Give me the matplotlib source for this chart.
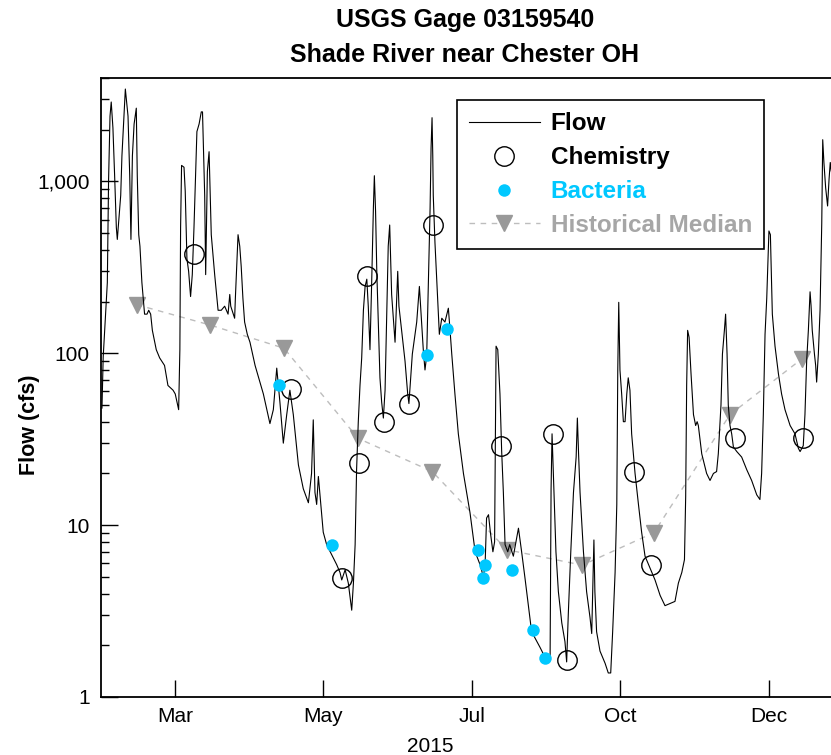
import matplotlib
matplotlib.use('Agg')
import matplotlib.pyplot as plt
from matplotlib.ticker import LogLocator, NullFormatter

plt.rcParams['font.family'] = ['Liberation Sans', 'DejaVu Sans']

# daily flow at the gage, day counted from 1 Feb 2015
flow_day = [
    -2.0, -1.5, 0.2, 0.7, 1.3, 1.8, 2.5, 3.2, 3.9, 4.3,
    4.8, 5.7, 6.2, 7.6, 8.7, 9.4, 9.9, 10.5, 11.2, 12.1,
    12.5, 13.1, 13.6, 14.4, 15.5, 16.5, 17.2, 18.0, 18.7, 20.3,
    21.7, 23.7, 25.1, 27.2, 28.1, 29.5, 30.0, 30.3, 30.7, 31.7,
    32.2, 32.9, 33.6, 34.4, 35.1, 35.8, 36.4, 37.0, 37.9, 38.8,
    39.3, 40.2, 40.6, 41.3, 42.0, 42.9, 44.3, 45.7, 47.0, 48.4,
    49.8, 50.5, 50.9, 52.5, 52.8, 53.6, 53.9, 54.6, 55.2, 55.9,
    56.6, 57.7, 58.8, 60.9, 64.3, 67.0, 68.4, 69.5, 69.8, 71.1,
    72.5, 73.9, 75.2, 76.6, 78.7, 80.7, 82.8, 84.1, 84.8, 85.5,
    86.2, 86.9, 87.6, 88.9, 90.3, 94.4, 95.8, 96.5, 97.9, 99.2,
    100.6, 101.3, 102.0, 102.6, 103.3, 104.0, 104.7, 105.4, 106.1, 106.8,
    107.4, 108.1, 108.8, 109.5, 109.9, 110.4, 110.9, 111.5, 112.2, 112.9,
    113.6, 114.3, 115.0, 115.6, 116.2, 117.0, 118.4, 119.5, 120.0, 121.1,
    122.5, 123.6, 124.1, 125.5, 127.3, 128.4, 129.1, 130.0, 130.7, 131.4,
    131.8, 132.4, 132.8, 133.2, 133.6, 133.9, 134.1, 134.8, 135.8, 136.6,
    137.6, 138.9, 140.3, 141.0, 141.7, 143.0, 144.4, 146.5, 149.2, 151.3,
    153.3, 154.7, 155.4, 156.0, 156.8, 157.6, 158.6, 159.3, 159.9, 160.6,
    161.5, 162.2, 162.9, 163.6, 164.7, 165.5, 167.0, 169.1, 170.4, 171.8,
    174.5, 178.0, 180.3, 182.1, 182.5, 182.9, 183.6, 184.5, 185.5, 186.9,
    188.2, 188.9, 189.6, 190.6, 191.7, 192.8, 193.3, 193.8, 194.4, 195.8,
    197.1, 198.5, 199.2, 199.6, 200.1, 200.5, 201.2, 202.6, 204.7, 206.0,
    207.0, 207.8, 208.8, 209.5, 209.9, 210.3, 210.8, 211.5, 212.2, 212.9,
    213.6, 214.2, 214.9, 215.6, 217.0, 218.4, 219.7, 221.1, 223.2, 225.2,
    227.3, 229.3, 231.4, 233.4, 234.8, 236.2, 237.3, 237.8, 238.2, 238.6,
    239.2, 240.0, 241.0, 241.9, 242.5, 243.0, 244.4, 246.4, 247.8, 249.2,
    250.5, 251.2, 252.3, 252.9, 253.7, 254.2, 254.8, 255.3, 256.0, 256.7,
    257.4, 258.8, 260.8, 262.9, 264.9, 267.0, 268.3, 269.0, 269.7, 270.4,
    271.1, 272.0, 272.6, 273.4, 274.5, 275.9, 277.2, 278.6, 280.7, 282.7,
    284.1, 284.8, 286.1, 286.8, 287.5, 288.2, 288.9, 289.3, 289.8, 290.7,
    291.2, 291.6, 292.3, 293.0, 293.7, 294.1, 294.6, 295.3, 296.1, 296.7,
    297.2, 297.6,
]
flow_cfs = [
    48, 95, 258, 1000, 2400, 2900, 2050, 1080, 540, 460,
    570, 830, 1410, 3450, 2400, 1080, 460, 1410, 2160, 2670,
    1080, 490, 420, 258, 169, 169, 178, 169, 136, 105,
    94, 85, 65, 61, 58, 47, 105, 540, 1240, 1210,
    880, 355, 300, 214, 287, 540, 1030, 1950, 2160, 2540,
    2540, 830, 287, 1140, 1490, 490, 287, 178, 178, 188,
    169, 220, 188, 160, 209, 395, 490, 420, 320, 209,
    152, 129, 116, 85, 58, 39, 47, 72, 82, 52,
    30, 44, 61, 44, 22.4, 16.3, 13.5, 20, 41, 15.5,
    13.2, 19.2, 14.7, 9.1, 7.7, 5.9, 5.3, 4.8, 5.5, 4.6,
    3.2, 4.6, 7.7, 21, 40, 65, 94, 178, 245, 270,
    188, 105, 258, 700, 1080, 670, 300, 152, 72, 52,
    42, 61, 169, 420, 558, 220, 116, 300, 188, 136,
    90, 58, 51, 99, 152, 245, 169, 105, 80, 97,
    169, 370, 700, 1570, 2350, 1410, 830, 440, 220, 129,
    160, 152, 183, 136, 99, 58, 34, 20, 11.8, 7.0,
    5.9, 5.0, 5.9, 11.0, 11.5, 9.0, 7.0, 8.0, 110, 105,
    58, 27, 15.5, 7.7, 7.0, 7.7, 6.6, 9.6, 7.0, 4.9,
    2.4, 1.94, 1.67, 1.70, 16.3, 34, 17.1, 7.0, 4.1, 2.7,
    2.1, 1.6, 3.1, 7.0, 15.5, 24.9, 42, 26, 15.5, 7.0,
    4.1, 2.9, 2.34, 4.1, 8.2, 4.1, 2.4, 1.85, 1.57, 1.38,
    1.38, 2.4, 5.3, 13.2, 80, 198, 80, 58, 40, 40,
    58, 72, 61, 34, 20, 13.2, 9.1, 6.6, 5.6, 4.8,
    3.9, 3.4, 3.5, 3.6, 4.6, 5.3, 6.3, 14.7, 65, 136,
    124, 76, 44, 38, 40, 38, 26, 20, 18.2, 20,
    20.5, 26, 50, 99, 136, 169, 99, 50, 38, 34,
    28.5, 26.8, 24.9, 21, 18.2, 15, 14.1, 20, 44, 129,
    209, 515, 490, 169, 110, 76, 58, 47, 38, 34,
    28, 26.8, 29, 44, 90, 136, 228, 190, 136, 99,
    85, 68, 99, 178, 570, 1750, 1280, 920, 720, 1030,
    1290, 1150,
]

# water chemistry samples
chem_day = [35.8, 75.8, 96.5, 103.4, 106.7, 113.7, 124.3, 134.1,
            161.9, 183.1, 189.0, 216.4, 223.7, 257.9, 285.9]
chem_cfs = [380, 62, 4.9, 23, 280, 40, 51, 558,
            29, 34, 1.65, 20.5, 5.9, 32, 32]

# bacteria samples
bact_day = [70.7, 92.3, 131.4, 139.6, 152.6, 154.7, 155.4, 166.3, 175.0, 180.2]
bact_cfs = [65, 7.7, 98, 138, 7.2, 4.95, 5.85, 5.5, 2.45, 1.68]

# monthly historical median flow
med_day = [12.2, 42.5, 72.8, 103.2, 133.7, 164.3, 195.3, 224.8, 256.0, 285.6]
med_cfs = [192, 146, 107, 32, 20.5, 7.2, 5.85, 9.05, 44, 93]

tick_day = [28, 89, 150, 211, 272]
tick_lab = ['Mar', 'May', 'Jul', 'Oct', 'Dec']
ytick_val = [1, 10, 100, 1000]
ytick_lab = ['1', '10', '100', '1,000']

W, H = 831, 755
fig = plt.figure(figsize=(W / 100, H / 100), dpi=100)
ax = fig.add_axes([101 / W, 1 - 697 / H, 730 / W, (697 - 78) / H])

cyan = '#00c8ff'
grey_txt = '#a6a6a6'

ax.plot(med_day, med_cfs, color='#bdbdbd', ls=(0, (4, 4)), lw=1.0,
        marker='v', ms=11, mfc='#999999', mec='#999999',
        label='Historical Median', zorder=2)
ax.plot(flow_day, flow_cfs, color='black', lw=0.8, label='Flow', zorder=3)
ax.plot(chem_day, chem_cfs, ls='none', marker='o', ms=14, mfc='none',
        mec='black', mew=1.0, label='Chemistry', zorder=4)
ax.plot(bact_day, bact_cfs, ls='none', marker='o', ms=9, mfc=cyan,
        mec='none', label='Bacteria', zorder=5)

ax.set_yscale('log')
ax.set_ylim(1, 4000)
ax.set_xlim(-2.4, 297.5)

ax.set_xticks(tick_day, tick_lab)
ax.set_yticks(ytick_val, ytick_lab)
ax.yaxis.set_minor_locator(LogLocator(base=10, subs=range(2, 10)))
ax.yaxis.set_minor_formatter(NullFormatter())
ax.tick_params(axis='x', direction='in', length=12, width=1, pad=7, labelsize=15)
ax.tick_params(axis='y', which='major', direction='in', length=12, width=1,
               pad=8, labelsize=15)
ax.tick_params(axis='y', which='minor', direction='in', length=6, width=1)

ax.spines['right'].set_visible(False)
for s in ('left', 'bottom', 'top'):
    ax.spines[s].set_linewidth(1.3)

ax.set_ylabel('Flow (cfs)', fontsize=15.5, fontweight='bold')
ax.yaxis.set_label_coords(-0.083, 0.44)
ax.set_xlabel('2015', fontsize=15)
ax.xaxis.set_label_coords((430 - 101) / 730, -0.064)

fig.text(465 / W, 1 - 20 / H, 'USGS Gage 03159540', ha='center', va='center',
         fontsize=18, fontweight='bold')
fig.text(465 / W, 1 - 55 / H, 'Shade River near Chester OH', ha='center',
         va='center', fontsize=18, fontweight='bold')

h, l = ax.get_legend_handles_labels()
order = [1, 2, 3, 0]
leg = ax.legend([h[i] for i in order], [l[i] for i in order],
                loc='upper left', bbox_to_anchor=(457 / W, 1 - 100 / H),
                bbox_transform=fig.transFigure, borderaxespad=0,
                frameon=True, fancybox=False, framealpha=1, edgecolor='black',
                handlelength=2.9, handletextpad=0.45, labelspacing=0.45,
                borderpad=0.5, prop={'weight': 'bold', 'size': 17.5},
                labelcolor=['black', 'black', cyan, grey_txt])
leg.get_frame().set_linewidth(1.2)

fig.savefig('out.png', dpi=100)
